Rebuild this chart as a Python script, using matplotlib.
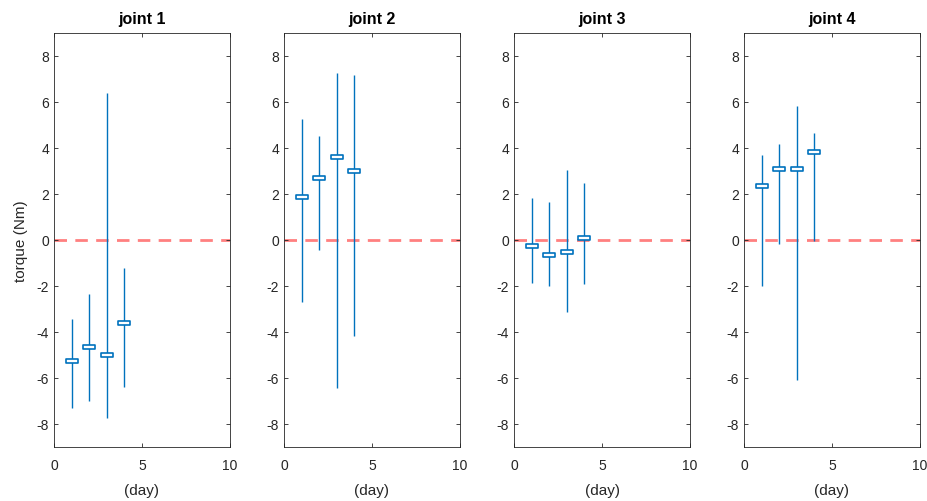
import matplotlib.pyplot as plt
from matplotlib.path import Path

plt.rcParams['font.family'] = ['Liberation Sans', 'DejaVu Sans']
plt.rcParams['axes.unicode_minus'] = False

days = [1, 2, 3, 4]
titles = ['joint 1', 'joint 2', 'joint 3', 'joint 4']

# median / min / max of torque per day, one list per joint
med1 = [-5.27, -4.66, -5.0, -3.62]
low1 = [-7.3, -6.99, -7.73, -6.37]
high1 = [-3.45, -2.36, 6.38, -1.22]

med2 = [1.88, 2.68, 3.62, 2.98]
low2 = [-2.7, -0.44, -6.42, -4.19]
high2 = [5.25, 4.51, 7.24, 7.17]

med3 = [-0.25, -0.67, -0.54, 0.1]
low3 = [-1.89, -2.0, -3.11, -1.93]
high3 = [1.82, 1.67, 3.04, 2.48]

med4 = [2.36, 3.10, 3.10, 3.81]
low4 = [-2.0, -0.17, -6.07, -0.06]
high4 = [3.71, 4.19, 5.84, 4.67]

meds = [med1, med2, med3, med4]
lows = [low1, low2, low3, low4]
highs = [high1, high2, high3, high4]

blue = '#0072BD'
dark = '#262626'
box = Path([(-1, -0.42), (1, -0.42), (1, 0.42), (-1, 0.42), (-1, -0.42)],
           [Path.MOVETO, Path.LINETO, Path.LINETO, Path.LINETO, Path.CLOSEPOLY])

fig = plt.figure(figsize=(9.28, 5.02), dpi=100)
lefts = [54, 284, 514, 744]
for i in range(4):
    ax = fig.add_axes([lefts[i] / 928, 54 / 502, 176 / 928, 414 / 502])
    ax.axhline(0, color='#FF8080', lw=2, ls=(0, (4.5, 3)), zorder=1)
    ax.vlines(days, lows[i], highs[i], color=blue, lw=1, zorder=2)
    ax.plot(days, meds[i], ls='none', marker=box, ms=8.5, mfc='white',
            mec=blue, mew=1.2, zorder=3)
    ax.set_xlim(0, 10)
    ax.set_ylim(-9, 9)
    ax.set_xticks([0, 5, 10])
    ax.set_yticks(range(-8, 9, 2))
    ax.tick_params(direction='in', top=True, right=True, length=3,
                   labelsize=10, colors=dark, width=0.6)
    ax.tick_params(axis='x', pad=8)
    for s in ax.spines.values():
        s.set_color(dark)
        s.set_linewidth(0.6)
    ax.set_title(titles[i], fontsize=11.5, fontweight='bold', color='black', pad=7)
    ax.set_xlabel('(day)', fontsize=11, color=dark, labelpad=8)
    if i == 0:
        ax.set_ylabel('torque (Nm)', fontsize=11, color=dark, labelpad=6)

fig.savefig('out.png', dpi=100, facecolor='white')
